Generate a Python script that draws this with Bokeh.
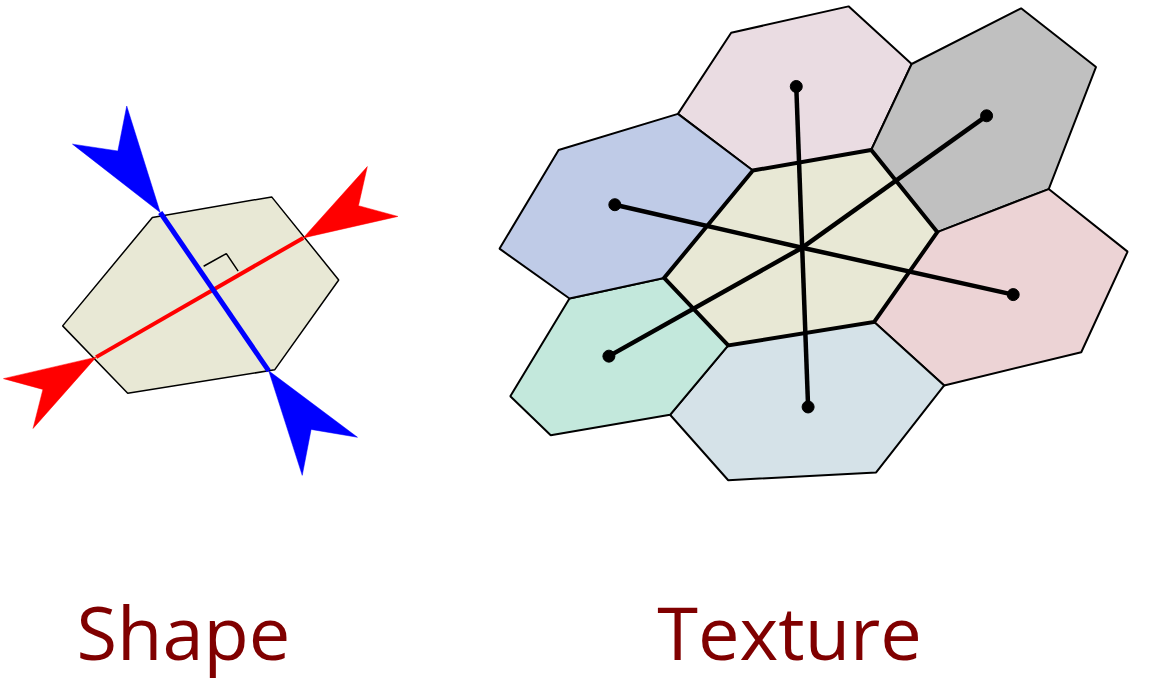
from bokeh.plotting import figure
from bokeh.models import Range1d
from bokeh.core.properties import value
from bokeh.embed import file_html
from bokeh.resources import INLINE

# ---- Shape panel (left) ----
shape_hex_x = [154, 275, 343, 278, 129, 63]
shape_hex_y = [222, 201, 286, 378, 402, 333]

# blue axis (minor) and red axis (major): start / end points
blue_axis_x = [162, 272]
blue_axis_y = [217, 379]
red_axis_x = [97, 307]
red_axis_y = [365, 243]

# arrow heads: tip, barb, notch, barb
blue_heads_x = [[162, 128, 119, 73], [272, 362, 315, 306]]
blue_heads_y = [[217, 108, 154, 147], [379, 447, 439, 486]]
red_heads_x = [[97, 3, 43, 33], [307, 372, 363, 403]]
red_heads_y = [[365, 387, 398, 438], [243, 170, 210, 221]]

right_angle_x = [206, 229, 241]
right_angle_y = [272, 259, 277]

# ---- Texture panel (right) ----
cell_xs = [
    [741, 860, 924, 883, 763, 687],     # top
    [924, 1035, 1111, 1063, 950, 883],  # top right
    [1063, 1143, 1096, 957, 886, 950],  # right
    [886, 957, 888, 738, 679, 738],     # bottom
    [577, 673, 738, 679, 558, 517],     # bottom left
    [566, 687, 763, 673, 577, 506],     # left
]
cell_ys = [
    [33, 6, 65, 153, 174, 116],
    [65, 8, 68, 193, 237, 153],
    [193, 257, 360, 394, 329, 237],
    [329, 394, 483, 491, 424, 353],
    [305, 284, 353, 424, 445, 405],
    [153, 116, 174, 284, 305, 254],
]
cell_colors = ["#eadce2", "#c0c0c0", "#ecd3d5", "#d5e2e8", "#c3e8dc", "#bfcbe7"]

center_x = [763, 883, 950, 886, 738, 673]
center_y = [174, 153, 237, 329, 353, 284]
center_color = "#e8e8d5"

hub_x, hub_y = 813, 253
dot_x = [807, 1000, 1027, 819, 617, 623]
dot_y = [88, 118, 301, 416, 364, 209]

labels = ["Shape", "Texture"]
label_x = [77, 666]
label_y = [646, 646]

p = figure(width=1134, height=682, x_range=Range1d(0, 1150), y_range=Range1d(698, 0),
           output_backend="svg", toolbar_location=None, min_border=0)
p.axis.visible = False
p.grid.visible = False
p.outline_line_color = None
p.background_fill_color = "white"

# shape
p.patch(shape_hex_x, shape_hex_y, fill_color=center_color, line_color="black", line_width=1.5)
p.line(right_angle_x, right_angle_y, line_color="black", line_width=1.5)
p.line(red_axis_x, red_axis_y, line_color="#ff0000", line_width=4)
p.line(blue_axis_x, blue_axis_y, line_color="#0000ff", line_width=5)
p.patches(red_heads_x, red_heads_y, fill_color="#ff0000", line_color="#ff0000", line_width=0.5)
p.patches(blue_heads_x, blue_heads_y, fill_color="#0000ff", line_color="#0000ff", line_width=0.5)

# texture
p.patches(cell_xs, cell_ys, fill_color=cell_colors, line_color="black", line_width=2)
p.patch(center_x, center_y, fill_color=center_color, line_color="black", line_width=4, line_join="miter")
p.segment(x0=[hub_x] * len(dot_x), y0=[hub_y] * len(dot_y), x1=dot_x, y1=dot_y,
          line_color="black", line_width=4.5)
p.scatter(dot_x, dot_y, size=12, color="black")

p.text(label_x, label_y, text=labels, text_font=value("Open Sans"), text_font_size="74px",
       text_color="#800000", text_baseline="alphabetic", text_align="left")

open("out.html", "w").write(file_html(p, INLINE))
